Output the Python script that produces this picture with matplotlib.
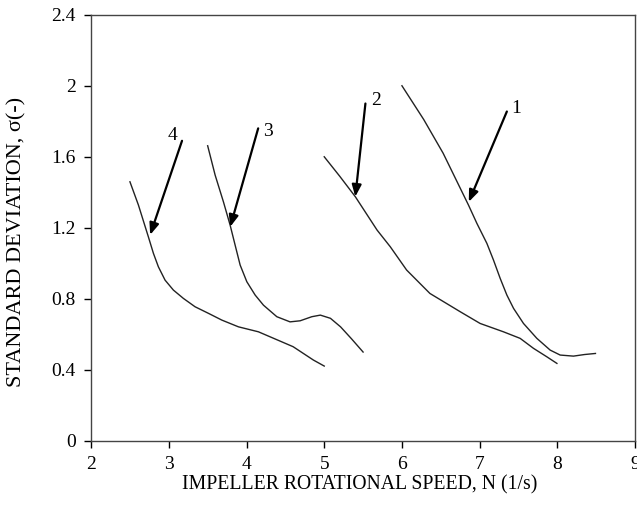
import matplotlib
matplotlib.use("Agg")
import matplotlib.pyplot as plt

plt.rcParams['font.family'] = ['Liberation Serif', 'DejaVu Serif']

# curve 1
x1 = [6.0, 6.28, 6.53, 6.856, 6.964, 7.093, 7.178, 7.264, 7.35, 7.436, 7.564, 7.736, 7.907, 8.036, 8.207, 8.35, 8.49]
y1 = [2.0, 1.81, 1.62, 1.328, 1.225, 1.112, 1.018, 0.915, 0.821, 0.746, 0.661, 0.577, 0.511, 0.483, 0.477, 0.486, 0.492]
# curve 2
x2 = [5.0, 5.2, 5.4, 5.68, 5.85, 6.06, 6.36, 6.75, 7.006, 7.306, 7.521, 7.692, 7.865, 7.994]
y2 = [1.60, 1.49, 1.375, 1.187, 1.093, 0.962, 0.830, 0.727, 0.661, 0.614, 0.577, 0.521, 0.473, 0.436]
# curve 3
x3 = [3.5, 3.596, 3.703, 3.789, 3.853, 3.918, 4.004, 4.111, 4.218, 4.39, 4.56, 4.69, 4.84, 4.95, 5.08, 5.21, 5.35, 5.5]
y3 = [1.662, 1.497, 1.346, 1.215, 1.103, 0.990, 0.896, 0.821, 0.764, 0.699, 0.670, 0.676, 0.699, 0.708, 0.690, 0.642, 0.575, 0.50]
# curve 4
x4 = [2.5, 2.609, 2.737, 2.802, 2.866, 2.952, 3.059, 3.188, 3.338, 3.51, 3.682, 3.896, 4.153, 4.35, 4.6, 4.86, 5.0]
y4 = [1.459, 1.328, 1.149, 1.056, 0.980, 0.905, 0.849, 0.802, 0.755, 0.718, 0.680, 0.642, 0.614, 0.577, 0.530, 0.455, 0.421]

curves = [(x1, y1), (x2, y2), (x3, y3), (x4, y4)]
labels = ['1', '2', '3', '4']
# arrow tip, arrow tail, label position
arrow_tips = [(6.86, 1.346), (5.40, 1.375), (3.79, 1.205), (2.76, 1.16)]
arrow_tails = [(7.35, 1.855), (5.53, 1.90), (4.15, 1.76), (3.17, 1.69)]
label_pos = [(7.47, 1.87), (5.67, 1.915), (4.27, 1.74), (3.05, 1.72)]

fig = plt.figure(figsize=(6.37, 5.09), dpi=100)
ax = fig.add_axes([0.143, 0.134, 0.854, 0.837])

for x, y in curves:
    ax.plot(x, y, color='#222222', lw=1.0)

for lab, tip, tail, pos in zip(labels, arrow_tips, arrow_tails, label_pos):
    ax.annotate('', xy=tip, xytext=tail,
                arrowprops=dict(arrowstyle='-|>,head_length=0.7,head_width=0.28',
                                color='black', lw=1.6, shrinkA=0, shrinkB=0))
    ax.text(pos[0], pos[1], lab, fontsize=14, ha='center', va='center')

ax.set_xlim(2, 9)
ax.set_ylim(0, 2.4)
ax.set_xticks([2, 3, 4, 5, 6, 7, 8, 9])
ax.set_yticks([0, 0.4, 0.8, 1.2, 1.6, 2, 2.4])
ax.set_yticklabels(['0', '0.4', '0.8', '1.2', '1.6', '2', '2.4'])
ax.tick_params(direction='out', length=5, width=1, labelsize=14, pad=6)
for s in ax.spines.values():
    s.set_color('#444444')
    s.set_linewidth(1.0)

ax.set_xlabel('IMPELLER ROTATIONAL SPEED, N (1/s)', fontsize=14.2, va='center')
ax.xaxis.set_label_coords(0.493, -0.104)
ax.set_ylabel('STANDARD DEVIATION, σ(-)', fontsize=16, va='center')
ax.yaxis.set_label_coords(-0.136, 0.466)

fig.savefig('out.png', dpi=100)
